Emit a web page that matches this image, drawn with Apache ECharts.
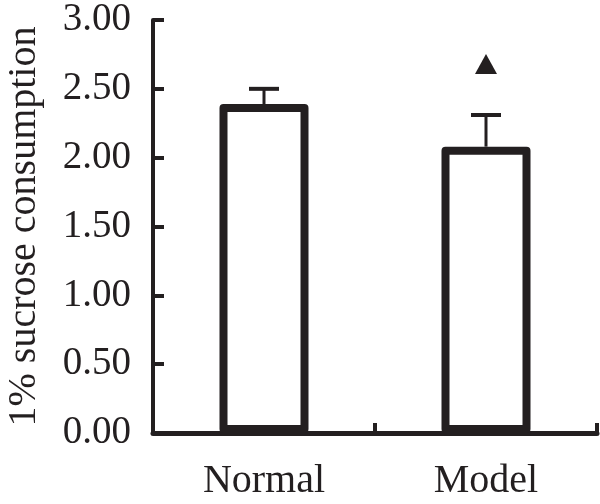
<!DOCTYPE html>
<html>
<head>
<meta charset="utf-8">
<script src="https://cdn.jsdelivr.net/npm/echarts@6/dist/echarts.min.js"></script>
<style>html,body{margin:0;padding:0;background:#fff}#c{width:600px;height:504px}</style>
</head>
<body>
<div id="c"></div>
<script>
const categories = ['Normal', 'Model'];
const means = [2.39, 2.08];
const errors = [0.11, 0.23];
const sigMarks = [null, 2.68];
const yTicks = [0, 0.5, 1.0, 1.5, 2.0, 2.5, 3.0];

const ink = '#231f20';
const font = 'Liberation Serif';

const chart = echarts.init(document.getElementById('c'), null, {renderer: 'canvas'});
chart.setOption({
  animation: false,
  backgroundColor: '#fff',
  grid: {left: 153, right: 3, top: 20, bottom: 71, containLabel: false, outerBoundsMode: 'none'},
  xAxis: {
    type: 'category',
    data: categories,
    boundaryGap: true,
    axisLine: {show: true, lineStyle: {color: ink, width: 5}},
    axisTick: {show: true, inside: true, length: 10, lineStyle: {color: ink, width: 4}},
    axisLabel: {color: ink, fontFamily: font, fontSize: 40, margin: 28},
    splitLine: {show: false}
  },
  yAxis: {
    type: 'value',
    min: yTicks[0],
    max: yTicks[yTicks.length - 1],
    interval: 0.5,
    name: '1% sucrose consumption',
    nameLocation: 'middle',
    nameRotate: 90,
    nameGap: 109,
    nameTextStyle: {color: ink, fontFamily: font, fontSize: 40},
    axisLine: {show: true, lineStyle: {color: ink, width: 4}},
    axisTick: {show: true, inside: true, length: 11, lineStyle: {color: ink, width: 4}},
    axisLabel: {color: ink, fontFamily: font, fontSize: 39, margin: 22,
      formatter: v => v.toFixed(2)},
    splitLine: {show: false}
  },
  series: [
    {
      type: 'bar',
      data: means,
      barWidth: 89,
      itemStyle: {color: '#fff', borderColor: ink, borderWidth: 8, borderJoin: 'round'},
      z: 3
    },
    {
      type: 'custom',
      z: 4,
      data: means.map((m, i) => [i, m, m + errors[i]]),
      renderItem: function (params, api) {
        const x = api.value(0);
        const p0 = api.coord([x, api.value(1)]);
        const p1 = api.coord([x, api.value(2)]);
        const half = 15;
        return {
          type: 'group',
          children: [
            {type: 'line', shape: {x1: p0[0], y1: p0[1], x2: p1[0], y2: p1[1]},
              style: {stroke: ink, lineWidth: 3}},
            {type: 'line', shape: {x1: p1[0] - half, y1: p1[1], x2: p1[0] + half, y2: p1[1]},
              style: {stroke: ink, lineWidth: 4}}
          ]
        };
      }
    },
    {
      type: 'scatter',
      data: sigMarks,
      symbol: 'triangle',
      symbolSize: [22, 20],
      itemStyle: {color: ink, opacity: 1},
      z: 5
    }
  ]
});
</script>
</body>
</html>
